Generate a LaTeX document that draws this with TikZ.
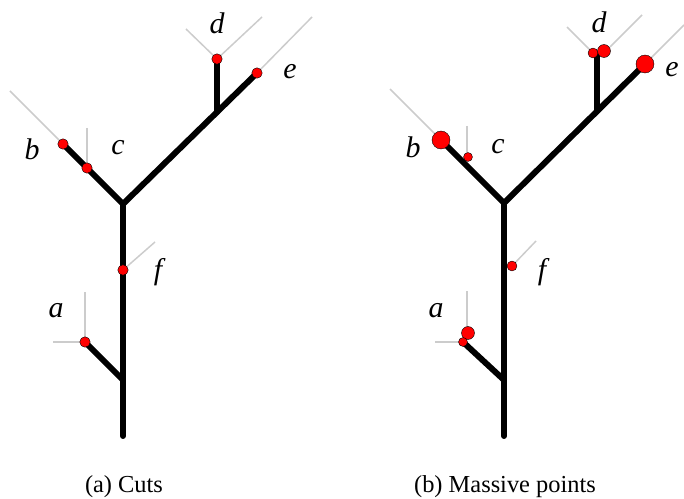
\documentclass[tikz,border=0pt]{standalone}
\usepackage{fontspec}
\setmainfont{Liberation Serif}
\usetikzlibrary{positioning}
\definecolor{twig}{HTML}{CCCCCC}
\definecolor{massred}{HTML}{FF0000}
\tikzset{
  branch/.style={draw=black, line width=6pt, line cap=round},
  cutline/.style={draw=twig, line width=1.5pt},
  pt/.style={circle, draw=black, line width=0.4pt, fill=massred, inner sep=0pt, minimum size=#1},
  pt/.default=10.5pt,
  lbl/.style={font=\fontsize{30}{34}\selectfont\itshape, inner sep=0pt},
  caption/.style={font=\fontsize{24.5}{28}\selectfont, inner sep=0pt}
}
\begin{document}
\begin{tikzpicture}[x=1bp, y=-1bp]
\useasboundingbox (0,0) rectangle (684,499);

% --- (a) cuts
\coordinate (aroot) at (123,436);
\coordinate (aj1) at (123,380);
\coordinate (aj2) at (123,204);
\coordinate (aj3) at (217,112);
\coordinate (aa) at (85,342);
\coordinate (ab) at (63,144);
\coordinate (ac) at (87,168);
\coordinate (ad) at (217,59);
\coordinate (ae) at (257,73);
\coordinate (af) at (123,270);

\coordinate (aa1) at (53,342);
\coordinate (aa2) at (85,292);
\coordinate (ab1) at (10,91);
\coordinate (ac1) at (87,128);
\coordinate (ad1) at (186,29);
\coordinate (ad2) at (262,17);
\coordinate (ae1) at (312,17);
\coordinate (af1) at (155,242);

\draw[cutline] (aa1)--(aa)--(aa2);
\draw[cutline] (ab1)--(ab);
\draw[cutline] (ac1)--(ac);
\draw[cutline] (ad1)--(ad)--(ad2);
\draw[cutline] (ae)--(ae1);
\draw[cutline] (af)--(af1);

\draw[branch] (aroot)--(aj2);
\draw[branch] (aj1)--(aa);
\draw[branch] (aj2)--(ab);
\draw[branch] (aj2)--(ae);
\draw[branch] (aj3)--(ad);

\node[pt] (pa) at (aa) {};
\node[pt] (pb) at (ab) {};
\node[pt] (pc) at (ac) {};
\node[pt] (pd) at (ad) {};
\node[pt] (pe) at (ae) {};
\node[pt] (pf) at (af) {};

\node[lbl] (la) at (56,311) {a};
\node[lbl] (lb) at (32,149) {b};
\node[lbl] (lc) at (118,148) {c};
\node[lbl] (ld) at (217,23) {d};
\node[lbl] (le) at (290,72) {e};
\node[lbl] (lf) at (158,272) {f};

\node[caption] (capa) at (124,487) {(a) Cuts};

% --- (b) massive points
\coordinate (broot) at (504,436);
\coordinate (bj1) at (504,380);
\coordinate (bj2) at (504,203);
\coordinate (bj3) at (597,111);
\coordinate (ba) at (463,342);
\coordinate (bb) at (441,140);
\coordinate (bd) at (597,55);
\coordinate (be) at (645,64);

\coordinate (ba1) at (435,342);
\coordinate (ba2) at (467,291);
\coordinate (ba3) at (467,333);
\coordinate (bb1) at (390,89);
\coordinate (bc1) at (467,126);
\coordinate (bc2) at (467,157);
\coordinate (bd1) at (567,27);
\coordinate (bd2) at (590,50);
\coordinate (bd3) at (610,47);
\coordinate (bd4) at (642,15);
\coordinate (be1) at (684,25);
\coordinate (bf1) at (512,266);
\coordinate (bf2) at (536,241);

\draw[cutline] (ba1)--(ba);
\draw[cutline] (ba2)--(ba3);
\draw[cutline] (bb1)--(bb);
\draw[cutline] (bc1)--(bc2);
\draw[cutline] (bd1)--(bd2);
\draw[cutline] (bd3)--(bd4);
\draw[cutline] (be)--(be1);
\draw[cutline] (bf1)--(bf2);

\draw[branch] (broot)--(bj2);
\draw[branch] (bj1)--(ba);
\draw[branch] (bj2)--(bb);
\draw[branch] (bj2)--(be);
\draw[branch] (bj3)--(bd);

\node[pt=13pt] (qa2) at (468,333) {};
\node[pt=9pt] (qa1) at (ba) {};
\node[pt=18pt] (qb) at (bb) {};
\node[pt=9pt] (qc) at (468,157) {};
\node[pt=10pt] (qd1) at (593,53) {};
\node[pt=13pt] (qd2) at (604,51) {};
\node[pt=18pt] (qe) at (be) {};
\node[pt=10pt] (qf) at (bf1) {};

\node[lbl] (ma) at (436,311) {a};
\node[lbl] (mb) at (413,147) {b};
\node[lbl] (mc) at (498,147) {c};
\node[lbl] (md) at (599,22) {d};
\node[lbl] (me) at (672,70) {e};
\node[lbl] (mf) at (542,272) {f};

\node[caption] (capb) at (505,487) {(b) Massive points};
\end{tikzpicture}
\end{document}
